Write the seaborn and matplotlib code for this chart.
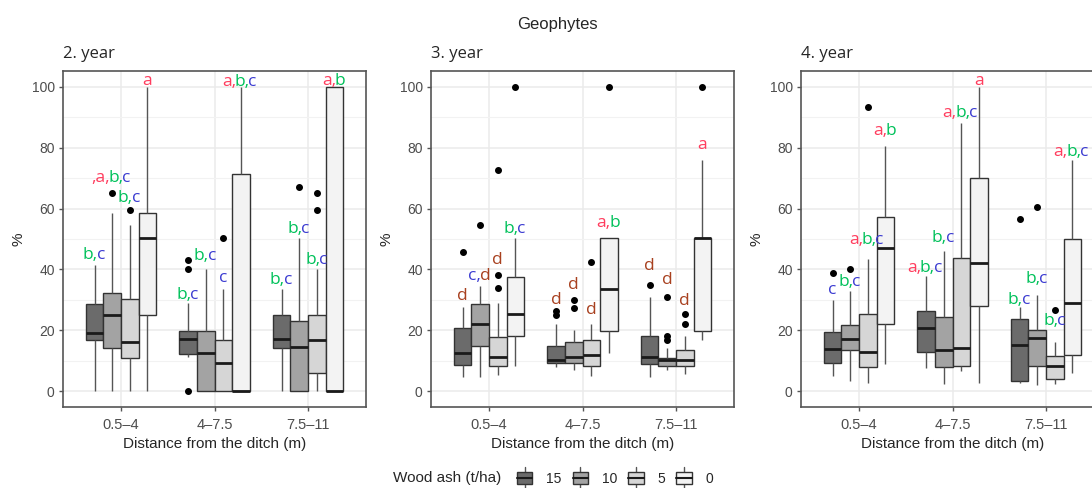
import re
import numpy as np
import pandas as pd
import matplotlib
matplotlib.use("Agg")
import matplotlib.pyplot as plt
from matplotlib.ticker import FixedLocator
from matplotlib.legend_handler import HandlerBase
from matplotlib.patches import Rectangle, Patch
from matplotlib.lines import Line2D
import seaborn as sns

# ---- values (rows: distance class, cols: wood ash 15/10/5/0)
dists = ['0.5–4', '4–7.5', '7.5–11']
ash = ['15', '10', '5', '0']
years = ['2. year', '3. year', '4. year']

q1_y2 = [[16.7, 14.2, 11.0, 25.1], [12.3, 0.0, 0.0, 0.0], [14.2, 0.0, 6.1, 0.0]]
med_y2 = [[19.1, 24.9, 16.1, 50.3], [17.1, 12.6, 9.2, 0.0], [17.0, 14.5, 16.9, 0.0]]
q3_y2 = [[28.7, 32.4, 30.2, 58.5], [19.9, 19.9, 16.9, 71.5], [25.1, 22.9, 25.1, 100.0]]
lo_y2 = [[0.0, 0.0, 0.0, 0.0], [11.2, 0.0, 0.0, 0.0], [0.0, 0.0, 0.0, 0.0]]
hi_y2 = [[41.5, 58.5, 54.7, 100.0], [28.9, 40.1, 33.5, 100.0], [33.5, 50.3, 40.1, 100.0]]
fl_y2 = [[[], [65.0], [59.6], []], [[0.0, 40.0, 43.0], [], [50.2], []], [[], [67.0], [59.6, 65.0], []]]

q1_y3 = [[8.7, 14.9, 8.3, 18.2], [9.2, 9.2, 8.3, 19.9], [9.0, 8.3, 8.3, 19.9]]
med_y3 = [[12.6, 22.0, 11.2, 25.3], [10.3, 11.2, 11.9, 33.6], [11.2, 10.1, 10.1, 50.3]]
q3_y3 = [[20.7, 28.7, 17.8, 37.4], [14.7, 16.0, 16.9, 50.3], [18.2, 11.0, 13.6, 50.3]]
lo_y3 = [[4.8, 4.8, 5.4, 8.3], [8.1, 7.0, 5.0, 12.7], [4.6, 7.0, 5.7, 16.9]]
hi_y3 = [[27.6, 34.6, 28.9, 50.3], [22.1, 20.2, 22.1, 50.3], [31.1, 14.1, 18.2, 76.1]]
fl_y3 = [[[45.8], [54.7], [33.9, 38.2, 72.6], [100.0]],
         [[25.0, 26.3], [27.2, 30.1], [42.5], [100.0]],
         [[35.0], [16.7, 18.2, 30.8], [22.2, 25.2], [100.0]]]

q1_y4 = [[9.4, 13.6, 8.1, 22.0], [13.0, 8.1, 8.4, 28.1], [3.2, 8.3, 3.9, 11.9]]
med_y4 = [[13.8, 17.1, 12.8, 47.0], [20.9, 13.4, 14.1, 42.1], [15.1, 17.4, 8.3, 28.9]]
q3_y4 = [[19.6, 21.8, 25.4, 57.1], [26.2, 24.3, 43.7, 70.1], [23.7, 20.2, 11.6, 50.1]]
lo_y4 = [[5.0, 3.5, 2.8, 9.0], [7.6, 2.4, 6.5, 2.8], [2.8, 2.1, 2.4, 5.9]]
hi_y4 = [[29.8, 32.8, 43.4, 80.5], [37.9, 46.2, 88.0, 100.0], [27.6, 31.7, 16.0, 76.1]]
fl_y4 = [[[38.9], [40.2], [93.5], []], [[], [], [], []], [[56.6], [60.4], [26.6], []]]

# significance letters and the height of their centre
lab_y2 = [['b,c', ',a,b,c', 'b,c', 'a'], ['b,c', 'b,c', 'c', 'a,b,c'], ['b,c', 'b,c', 'b,c', 'a,b']]
laby_y2 = [[44.8, 69.9, 63.4, 102.0], [31.7, 44.3, 37.2, 101.7], [36.6, 53.3, 43.0, 102.0]]
lab_y3 = [['d', 'c,d', 'd', 'b,c'], ['d', 'd', 'd', 'a,b'], ['d', 'd', 'd', 'a']]
laby_y3 = [[31.3, 37.9, 43.0, 53.3], [30.0, 35.0, 26.7, 55.2], [41.2, 36.6, 29.5, 80.8]]
lab_y4 = [['c', 'b,c', 'a,b,c', 'a,b'], ['a,b,c', 'b,c', 'a,b,c', 'a'], ['b,c', 'b,c', 'b,c', 'a,b,c']]
laby_y4 = [[33.1, 36.0, 49.8, 85.4], [40.4, 50.3, 91.3, 102.0], [29.8, 36.8, 23.2, 78.6]]

fills = ['#6b6b6b', '#a3a3a3', '#d6d6d6', '#f3f3f3']
letter_col = {'a': '#ff3d5e', 'b': '#00c15a', 'c': '#3b3bd1', 'd': '#a8401f'}


def box_sample(lo, q1, med, q3, hi, fliers, n=20):
    # a sample whose quartiles/whiskers equal the values
    return [lo] + [q1] * n + [med] * n + [q3] * n + [hi] + list(fliers)


def year_frame(q1, med, q3, lo, hi, fl):
    rows = []
    for i, d in enumerate(dists):
        for j, a in enumerate(ash):
            for v in box_sample(lo[i][j], q1[i][j], med[i][j], q3[i][j], hi[i][j], fl[i][j]):
                rows.append((d, a, v))
    return pd.DataFrame(rows, columns=['dist', 'ash', 'pct'])


frames = [year_frame(q1_y2, med_y2, q3_y2, lo_y2, hi_y2, fl_y2),
          year_frame(q1_y3, med_y3, q3_y3, lo_y3, hi_y3, fl_y3),
          year_frame(q1_y4, med_y4, q3_y4, lo_y4, hi_y4, fl_y4)]
labels = [(lab_y2, laby_y2), (lab_y3, laby_y3), (lab_y4, laby_y4)]

sns.set_style('white')
plt.rcParams['font.family'] = ['Liberation Sans', 'DejaVu Sans']

W, H = 1092, 488
fig = plt.figure(figsize=(W / 100, H / 100), dpi=100)
lefts = [63, 431, 801]
width = 0.75
offs = [(k - 1.5) * width / 4 for k in range(4)]
LFS = 12.5


def colored_label(ax, x, y, text):
    anchor = ax.text(x, y, text, ha='center', va='center', color='none',
                     fontsize=LFS, family='Open Sans', clip_on=False)
    prev, xy, dx = anchor, (0, 0), 0
    for seg in re.findall(r',?[a-d],?', text):
        letter = re.search(r'[a-d]', seg).group()
        prev = ax.annotate(seg, xy=xy, xycoords=prev, xytext=(dx, 0),
                           textcoords='offset points', ha='left', va='bottom',
                           color=letter_col[letter], fontsize=LFS, family='Open Sans',
                           annotation_clip=False)
        xy, dx = (1, 0), -1.1


for k, df in enumerate(frames):
    ax = fig.add_axes([lefts[k] / W, 1 - 407 / H, 303 / W, 336 / H])
    sns.boxplot(data=df, x='dist', y='pct', hue='ash', order=dists, hue_order=ash,
                palette=fills, saturation=1, width=width, gap=0, linecolor='#333333',
                linewidth=1.0, showcaps=False, fliersize=4, legend=False,
                whiskerprops=dict(color='#555555', linewidth=1.0),
                medianprops=dict(color='#1a1a1a', linewidth=2.0),
                flierprops=dict(marker='o', markerfacecolor='black', markeredgecolor='black'),
                ax=ax)
    ax.set_xlim(-0.62, 2.62)
    ax.set_ylim(-5.2, 105.2)
    ax.set_yticks([0, 20, 40, 60, 80, 100])
    ax.yaxis.set_minor_locator(FixedLocator([10, 30, 50, 70, 90]))
    ax.set_axisbelow(True)
    ax.grid(True, which='major', color='#ebebeb', linewidth=1.1)
    ax.grid(True, which='minor', axis='y', color='#f2f2f2', linewidth=0.8)
    for s in ax.spines.values():
        s.set_visible(True)
        s.set_color('#555555')
        s.set_linewidth(1.2)
    ax.tick_params(which='major', length=3, width=1, color='#555555',
                   labelcolor='#4d4d4d', labelsize=10, pad=3, left=True, bottom=True)
    ax.tick_params(which='minor', length=0)
    ax.tick_params(axis='x', labelsize=10.5, pad=5)
    ax.set_xlabel('Distance from the ditch (m)', fontsize=11)
    ax.xaxis.set_label_coords(0.5, -0.09)
    ax.set_ylabel('%', fontsize=11)
    ax.yaxis.set_label_coords(-0.125, 0.5)
    ax.set_title(years[k], loc='left', fontsize=12, family='Open Sans', pad=9)

    labs, laby = labels[k]
    for i in range(3):
        for j in range(4):
            colored_label(ax, i + offs[j], laby[i][j], labs[i][j])

fig.text(557 / W, 1 - 24 / H, 'Geophytes', ha='center', va='center', fontsize=12)


class BoxKey(HandlerBase):
    def create_artists(self, legend, orig_handle, xdescent, ydescent, width, height,
                       fontsize, trans):
        x0 = -xdescent
        yc = -ydescent + height / 2
        fc = orig_handle.get_facecolor()
        xm = x0 + width / 2
        hb, hw = 4.6, 7.8   # half box height / half whisker span, in points
        wlo = Line2D([xm, xm], [yc - hw, yc - hb], color='#555555', lw=1.0, transform=trans)
        whi = Line2D([xm, xm], [yc + hb, yc + hw], color='#555555', lw=1.0, transform=trans)
        box = Rectangle((x0, yc - hb), width, 2 * hb, facecolor=fc,
                        edgecolor='#333333', lw=1.0, transform=trans)
        med = Line2D([x0, x0 + width], [yc, yc], color='#1a1a1a', lw=1.5, transform=trans)
        return [wlo, whi, box, med]


handles = [Patch(facecolor=c) for c in fills]
fig.text(393 / W, 1 - 478 / H, 'Wood ash (t/ha)', ha='left', va='center', fontsize=11)
fig.legend(handles, ash, handler_map={Patch: BoxKey()}, loc='center left',
           bbox_to_anchor=(517 / W, 1 - 478 / H), ncol=4, frameon=False, fontsize=10,
           handlelength=1.1, handleheight=1.7, handletextpad=1.0, columnspacing=0.8,
           borderpad=0, borderaxespad=0)

fig.savefig('out.png', dpi=100)
